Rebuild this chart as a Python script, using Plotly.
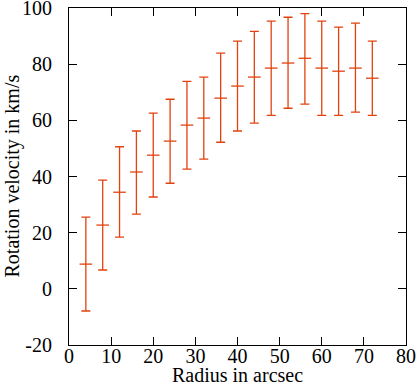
import plotly.graph_objects as go

# radius (arcsec) and rotation velocity (km/s)
radius = [4, 8, 12, 16, 20, 24, 28, 32, 36, 40, 44, 48, 52, 56, 60, 64, 68, 72]
velocity = [8.8, 22.7, 34.4, 41.6, 47.6, 52.6, 58.3, 60.8, 67.9, 72.2,
            75.4, 78.6, 80.4, 82.1, 78.6, 77.5, 78.6, 75.0]
v_upper = [25.5, 38.7, 50.6, 56.2, 62.6, 67.5, 73.9, 75.4, 83.9, 88.2,
           91.7, 95.3, 96.7, 98.0, 95.3, 93.2, 94.6, 88.2]
v_lower = [-7.9, 6.7, 18.4, 26.6, 32.7, 37.6, 42.6, 46.2, 52.2, 56.2,
           59.0, 61.8, 64.3, 65.8, 61.8, 61.8, 62.9, 61.8]
x_ticks = [0, 10, 20, 30, 40, 50, 60, 70, 80]
y_ticks = [-20, 0, 20, 40, 60, 80, 100]

err_plus = [u - v for u, v in zip(v_upper, velocity)]
err_minus = [v - l for v, l in zip(velocity, v_lower)]

color = "#e2420e"
tick_font = dict(family="Liberation Serif, DejaVu Serif, serif", size=20, color="black")
title_font = dict(family="Liberation Serif, DejaVu Serif, serif", size=20, color="black")

fig = go.Figure()
fig.add_trace(go.Scatter(
    x=radius, y=velocity, mode="markers",
    marker=dict(symbol="line-ew", size=9, line=dict(color=color, width=1.3)),
    error_y=dict(type="data", symmetric=False, array=err_plus, arrayminus=err_minus,
                 color=color, thickness=1.3, width=4.5),
    showlegend=False,
))

axis = dict(showline=True, linecolor="black", linewidth=1.2, mirror="ticks",
            ticks="inside", ticklen=8, tickwidth=1.2, tickcolor="black",
            showgrid=False, zeroline=False, tickfont=tick_font, automargin=False,
            tickmode="array", ticklabeloverflow="allow")

fig.update_xaxes(axis, range=[0, 80], tickvals=x_ticks,
                 ticktext=[str(t) for t in x_ticks], ticklabelstandoff=-7)
fig.update_yaxes(axis, range=[-20, 100], tickvals=y_ticks,
                 ticktext=[str(t) for t in y_ticks], ticklabelstandoff=12)

# axis titles as annotations so they sit where the reference puts them
fig.add_annotation(text="Radius in arcsec", xref="paper", yref="paper",
                   x=0.5, y=0, yshift=-30, yanchor="middle", showarrow=False,
                   font=title_font)
fig.add_annotation(text="Rotation velocity in km/s", xref="paper", yref="paper",
                   x=0, y=0.5, xshift=-57, xanchor="center", textangle=-90,
                   showarrow=False, font=title_font)

fig.update_layout(
    width=418, height=387,
    margin=dict(l=69, r=12, t=8, b=42),
    plot_bgcolor="white", paper_bgcolor="white",
    font=tick_font,
)

# page body has a default 8px margin; drop it so the figure fills the window
fig.write_html("out.html", config={"displayModeBar": False},
               post_script="document.body.style.margin='0';")
